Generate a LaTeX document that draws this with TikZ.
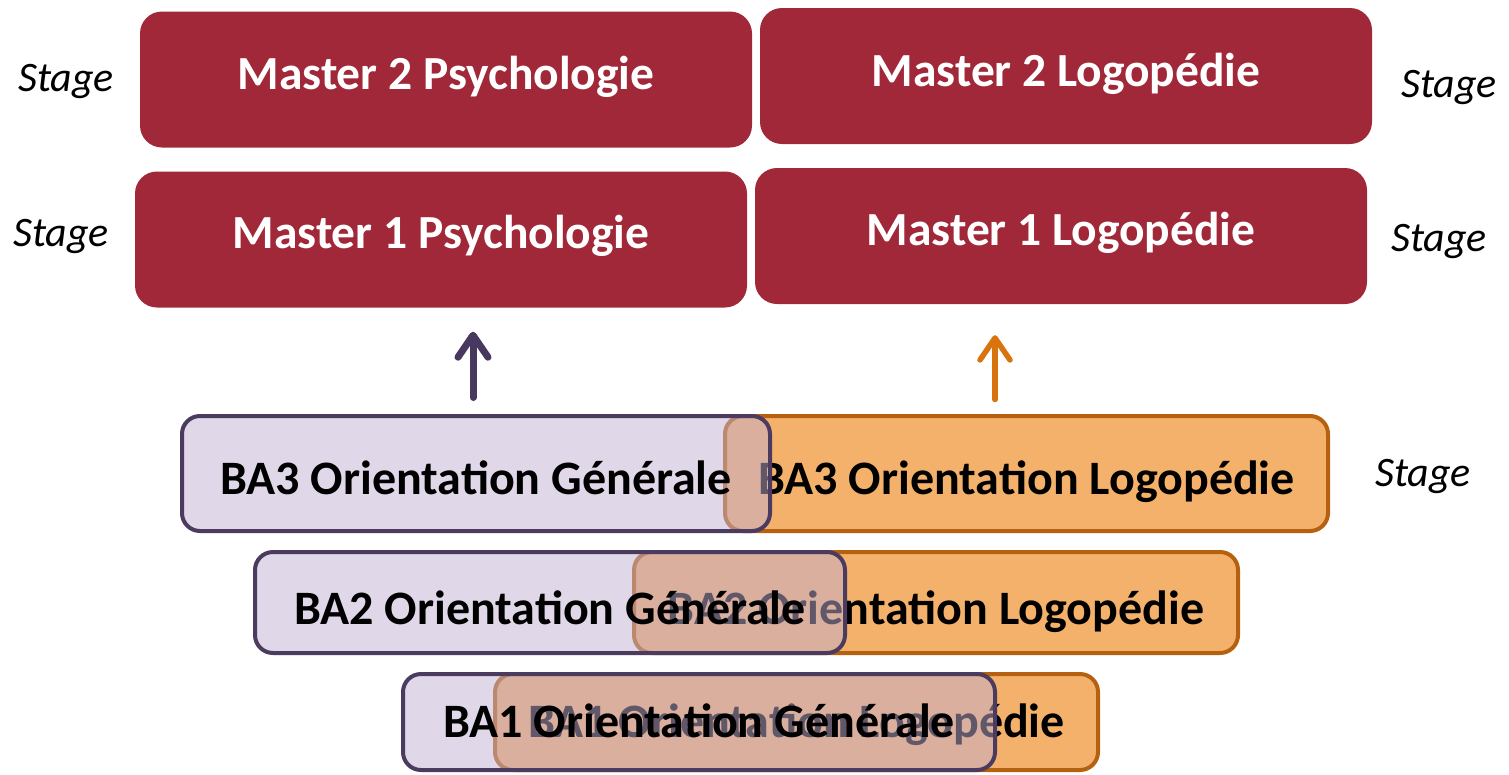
\documentclass[tikz,border=0pt]{standalone}
\usepackage{fontspec}
\setmainfont{Carlito}
\usetikzlibrary{arrows.meta}
\definecolor{mred}{HTML}{A02839}
\definecolor{ofill}{HTML}{F4B16B}
\definecolor{oline}{HTML}{B5610F}
\definecolor{oarrow}{HTML}{D9730D}
\definecolor{pline}{HTML}{4B3B5F}
\definecolor{parrowc}{HTML}{48375E}
\definecolor{pfill}{HTML}{C1AFD2}
\newcommand{\bl}[2]{\raisebox{#1}[0pt][0pt]{#2}}
\begin{document}
\begin{tikzpicture}[x=1pt,y=-1pt,
  master/.style={fill=mred, rounded corners=22pt, text=white,
    font=\fontsize{47.5}{56}\selectfont\bfseries,
    minimum width=612pt, minimum height=136pt, inner sep=0pt},
  babox/.style={line width=4pt, rounded corners=18pt, text=black,
    font=\fontsize{48}{56}\selectfont\bfseries, inner sep=0pt},
  logobox/.style={babox, draw=oline, fill=ofill},
  genbox/.style={babox, draw=pline, fill=pfill, fill opacity=0.5,
    draw opacity=1, text opacity=1},
  stagelbl/.style={font=\fontsize{42}{50}\selectfont\itshape, anchor=base, inner sep=0pt},
  uparrow/.style={line cap=round,
    -{Straight Barb[length=22pt,width=30pt,line cap=round,line join=round]}}
]
\useasboundingbox (0,0) rectangle (1509,774);

% Master boxes
\node[master] (m2p) at (446,79.5) {\bl{-10pt}{Master 2 Psychologie}};
\node[master] (m2l) at (1066,76) {\bl{-10pt}{Master 2 Logopédie}};
\node[master] (m1p) at (441,239.5) {\bl{-9pt}{Master 1 Psychologie}};
\node[master] (m1l) at (1061,236) {\bl{-9pt}{Master 1 Logopédie}};

% Stage labels
\node[stagelbl] (s1) at (66,91) {Stage};
\node[stagelbl] (s2) at (61,246) {Stage};
\node[stagelbl] (s3) at (1449,97) {Stage};
\node[stagelbl] (s4) at (1439,251) {Stage};
\node[stagelbl] (s5) at (1423,486) {Stage};

% BA boxes: Logopedie behind, Generale on top
\node[logobox, minimum width=603pt, minimum height=115pt] (ba3l) at (1026.5,473.5) {\bl{-20.5pt}{BA3 Orientation Logopédie}};
\node[genbox, minimum width=588pt, minimum height=115pt] (ba3g) at (476,473.5) {\bl{-20.5pt}{BA3 Orientation Générale}};

\node[logobox, minimum width=604pt, minimum height=101pt] (ba2l) at (936,602.5) {\bl{-21.5pt}{BA2 Orientation Logopédie}};
\node[genbox, minimum width=590pt, minimum height=101pt] (ba2g) at (550,602.5) {\bl{-21.5pt}{BA2 Orientation Générale}};

\node[logobox, minimum width=603pt, minimum height=96pt] (ba1l) at (796.5,722) {\bl{-15pt}{BA1 Orientation Logopédie}};
\node[genbox, minimum width=592pt, minimum height=96pt] (ba1g) at (699,722) {\bl{-15pt}{BA1 Orientation Générale}};

% Arrows
\draw[uparrow, line width=7pt, draw=parrowc, shorten <=16.5pt, shorten >=24pt]
  ([xshift=-3pt]ba3g.north) -- ([xshift=-3pt]ba3g.north |- m1p.south);
\draw[uparrow, line width=5.5pt, draw=oarrow, shorten <=14.5pt, shorten >=31pt]
  ([xshift=-31.5pt]ba3l.north) -- ([xshift=-31.5pt]ba3l.north |- m1l.south);
\end{tikzpicture}
\end{document}
